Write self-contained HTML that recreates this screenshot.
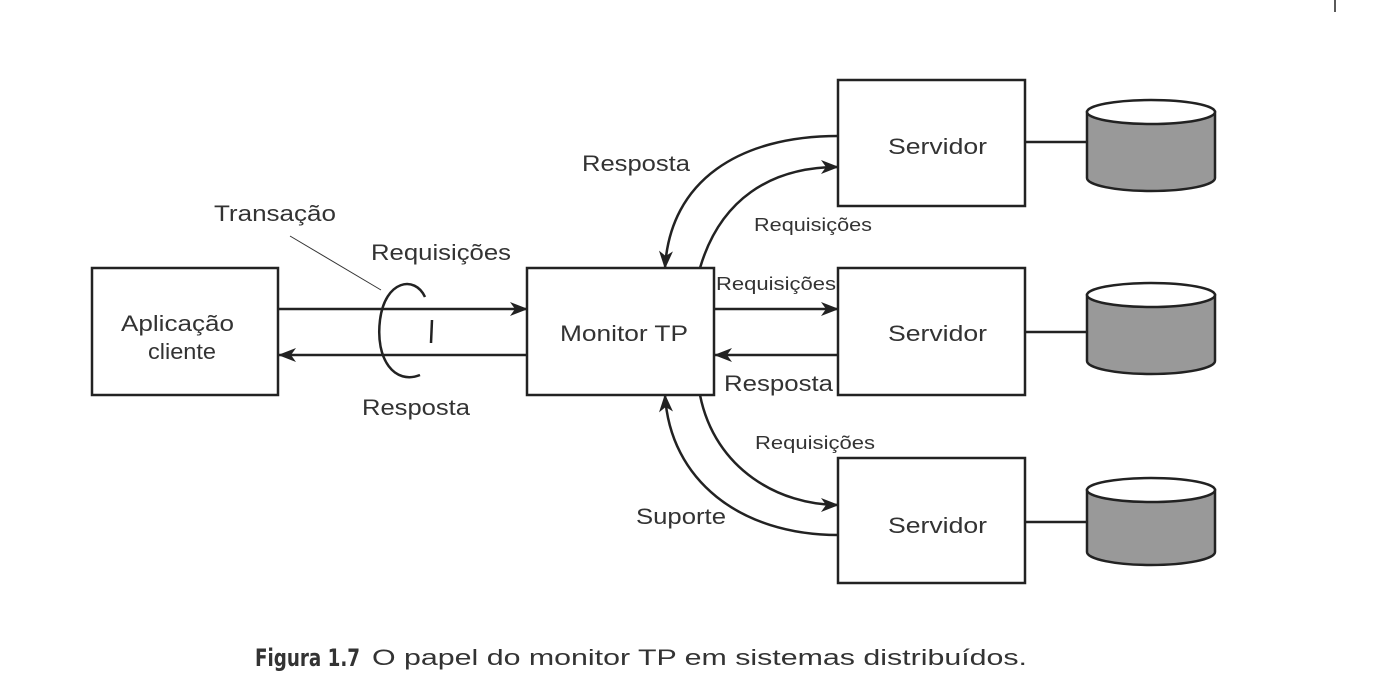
<!DOCTYPE html>
<html><head><meta charset="utf-8"><style>
body{margin:0;background:#fff;}
svg text{font-family:"Liberation Sans",sans-serif;fill:#333;}
</style></head><body>
<svg width="1383" height="695" viewBox="0 0 1383 695" xmlns="http://www.w3.org/2000/svg">
<defs>
<marker id="a" markerWidth="18" markerHeight="14" refX="17" refY="7" orient="auto" markerUnits="userSpaceOnUse">
<path d="M0,0 L18,7 L0,14 L5,7 Z" fill="#222"/></marker>
</defs>
<line x1="1335" y1="0" x2="1335" y2="12" stroke="#222" stroke-width="1.5"/>
<g fill="#fff" stroke="#222" stroke-width="2.5">
<rect x="92" y="268" width="186" height="127"/>
<rect x="527" y="268" width="187" height="127"/>
<rect x="838" y="80" width="187" height="126"/>
<rect x="838" y="268" width="187" height="127"/>
<rect x="838" y="458" width="187" height="125"/>
</g>
<g stroke="#222" stroke-width="2.5">
<line x1="1025" y1="142" x2="1087" y2="142"/>
<line x1="1025" y1="332" x2="1087" y2="332"/>
<line x1="1025" y1="522" x2="1087" y2="522"/>
</g>
<g stroke="#222" stroke-width="2.5">
<path d="M1087,112 v66 a64,13 0 0 0 128,0 v-66 Z" fill="#999"/>
<ellipse cx="1151" cy="112" rx="64" ry="12" fill="#fff"/>
<path d="M1087,295 v66 a64,13 0 0 0 128,0 v-66 Z" fill="#999"/>
<ellipse cx="1151" cy="295" rx="64" ry="12" fill="#fff"/>
<path d="M1087,490 v62 a64,13 0 0 0 128,0 v-62 Z" fill="#999"/>
<ellipse cx="1151" cy="490" rx="64" ry="12" fill="#fff"/>
</g>
<g stroke="#222" stroke-width="2.5" fill="none">
<line x1="278" y1="309" x2="527" y2="309" marker-end="url(#a)"/>
<line x1="527" y1="355" x2="279" y2="355" marker-end="url(#a)"/>
<line x1="714" y1="309" x2="838" y2="309" marker-end="url(#a)"/>
<line x1="838" y1="355" x2="715" y2="355" marker-end="url(#a)"/>
<path d="M838,136 C740,136 670,180 665,268" marker-end="url(#a)"/>
<path d="M700,268 C720,200 770,167 838,167" marker-end="url(#a)"/>
<path d="M700,395 C715,470 780,505 838,505" marker-end="url(#a)"/>
<path d="M838,535 C740,535 670,480 665,395" marker-end="url(#a)"/>
<path d="M425,297 C415,275 385,280 380,320 C375,360 395,385 420,375"/>
<line x1="432" y1="320" x2="431" y2="343"/>
</g>
<line x1="290" y1="236" x2="381" y2="290" stroke="#333" stroke-width="1"/>
<g font-size="22">
<text x="121" y="331" textLength="113" lengthAdjust="spacingAndGlyphs">Aplicação</text>
<text x="148" y="359" textLength="68" lengthAdjust="spacingAndGlyphs">cliente</text>
<text x="560" y="341" textLength="128" lengthAdjust="spacingAndGlyphs">Monitor TP</text>
<text x="888" y="154" textLength="99" lengthAdjust="spacingAndGlyphs">Servidor</text>
<text x="888" y="341" textLength="99" lengthAdjust="spacingAndGlyphs">Servidor</text>
<text x="888" y="533" textLength="99" lengthAdjust="spacingAndGlyphs">Servidor</text>
<text x="214" y="221" textLength="122" lengthAdjust="spacingAndGlyphs">Transação</text>
<text x="371" y="260" textLength="140" lengthAdjust="spacingAndGlyphs">Requisições</text>
<text x="362" y="415" textLength="108" lengthAdjust="spacingAndGlyphs">Resposta</text>
<text x="582" y="171" textLength="108" lengthAdjust="spacingAndGlyphs">Resposta</text>
<text x="724" y="391" textLength="109" lengthAdjust="spacingAndGlyphs">Resposta</text>
<text x="636" y="524" textLength="90" lengthAdjust="spacingAndGlyphs">Suporte</text>
</g>
<g font-size="18">
<text x="754" y="231" textLength="118" lengthAdjust="spacingAndGlyphs">Requisições</text>
<text x="716" y="290" textLength="120" lengthAdjust="spacingAndGlyphs">Requisições</text>
<text x="755" y="449" textLength="120" lengthAdjust="spacingAndGlyphs">Requisições</text>
</g>
<text x="255" y="666" font-size="24" font-weight="bold" style="font-family:'DejaVu Sans Condensed','Liberation Sans Narrow',sans-serif" textLength="105" lengthAdjust="spacingAndGlyphs" fill="#222">Figura 1.7</text>
<text x="372" y="665" font-size="22" fill="#444" textLength="655" lengthAdjust="spacingAndGlyphs">O papel do monitor TP em sistemas distribuídos.</text>
</svg>
</body></html>
